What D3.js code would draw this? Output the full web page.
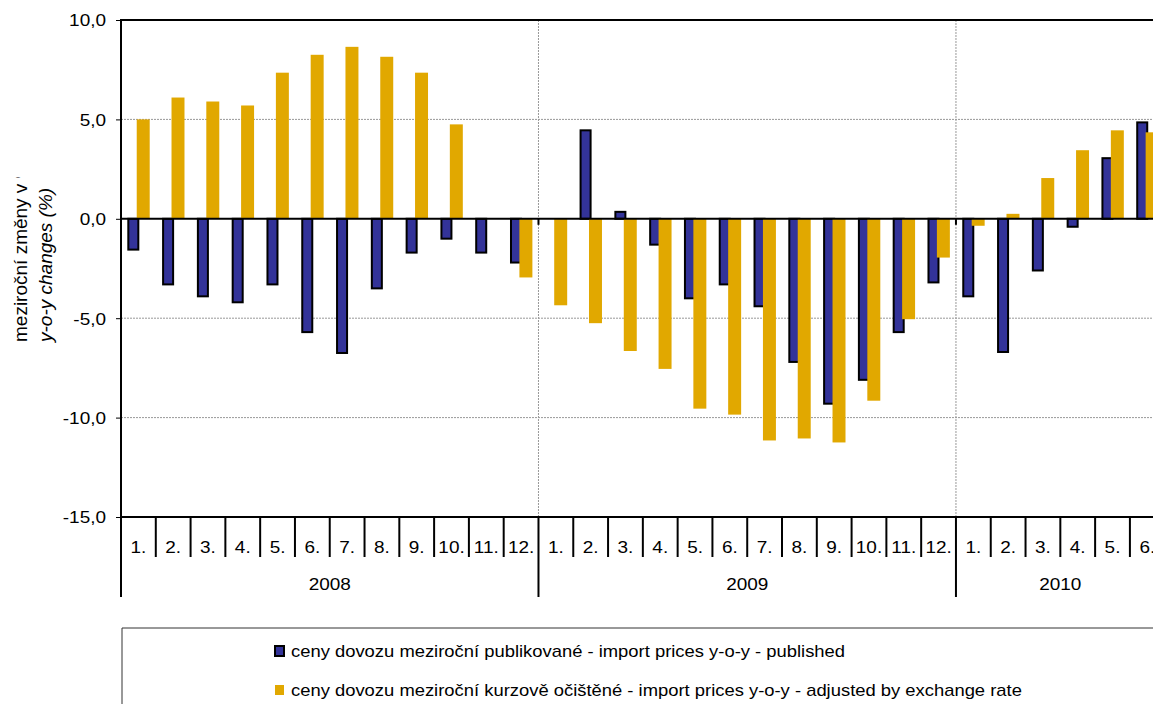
<!DOCTYPE html>
<html>
<head>
<meta charset="utf-8">
<script src="https://cdn.jsdelivr.net/npm/d3@7"></script>
<style>
  body { margin: 0; background: #fff; }
  svg { display: block; font-family: "Liberation Sans", Arial, sans-serif; }
</style>
</head>
<body>
<div id="chart"></div>
<script>
const years = ["2008", "2009", "2010"];
const monthsPerYear = [12, 12, 6];
const monthLabels = ["1.", "2.", "3.", "4.", "5.", "6.", "7.", "8.", "9.", "10.", "11.", "12."];
const published = [-1.55, -3.3, -3.9, -4.2, -3.3, -5.7, -6.75, -3.5, -1.7, -1.0, -1.7, -2.2,
                   0.0, 4.45, 0.35, -1.3, -4.0, -3.3, -4.4, -7.2, -9.3, -8.1, -5.7, -3.2,
                   -3.9, -6.7, -2.6, -0.4, 3.05, 4.85];
const adjusted = [5.0, 6.1, 5.9, 5.7, 7.35, 8.25, 8.65, 8.15, 7.35, 4.75, 0, -2.95,
                  -4.35, -5.25, -6.65, -7.55, -9.55, -9.85, -11.15, -11.05, -11.25, -9.15, -5.05, -1.95,
                  -0.35, 0.25, 2.05, 3.45, 4.45, 4.35];
const yTicks = [10, 5, 0, -5, -10, -15];
const seriesNames = ["ceny dovozu meziroční publikované - import prices y-o-y - published",
                     "ceny dovozu meziroční kurzově očištěné - import prices y-o-y - adjusted by exchange rate"];

const W = 1153, H = 704;
const plotLeft = 121, plotTop = 20, plotBottom = 517;
const slotW = 34.79;
const blue = "#333399", gold = "#E1A800";
const sx = 1.15; // horizontal stretch of the text in the reference

// categories
const cats = [];
years.forEach((yr, i) => {
  for (let m = 0; m < monthsPerYear[i]; m++) cats.push({year: yr, month: monthLabels[m], key: yr + "-" + (m + 1)});
});
const rows = cats.map((c, i) => ({...c, pub: published[i], adj: adjusted[i]}));

const x = d3.scaleBand().domain(cats.map(c => c.key)).range([plotLeft, plotLeft + cats.length * slotW]).padding(0);
const y = d3.scaleLinear().domain([-15, 10]).range([plotBottom, plotTop]);
const bw = x.bandwidth();

const svg = d3.select("#chart").append("svg").attr("width", W).attr("height", H);

// horizontal dotted gridlines
svg.append("g").selectAll("line")
  .data(yTicks.filter(t => t !== 0 && t !== 10 && t !== -15))
  .enter().append("line")
  .attr("x1", plotLeft).attr("x2", W)
  .attr("y1", d => y(d)).attr("y2", d => y(d))
  .attr("stroke", "#999").attr("stroke-width", 1).attr("stroke-dasharray", "2,1");

// year boundaries
const yearStarts = [];
let idx = 0;
years.forEach((yr, i) => { yearStarts.push({year: yr, start: idx, n: monthsPerYear[i]}); idx += monthsPerYear[i]; });

svg.append("g").selectAll("line")
  .data(yearStarts.slice(1))
  .enter().append("line")
  .attr("x1", d => x(cats[d.start].key)).attr("x2", d => x(cats[d.start].key))
  .attr("y1", plotTop).attr("y2", plotBottom)
  .attr("stroke", "#999").attr("stroke-width", 1).attr("stroke-dasharray", "2,1");

// top border
svg.append("line").attr("x1", plotLeft).attr("x2", W).attr("y1", y(10)).attr("y2", y(10))
  .attr("stroke", "#000").attr("stroke-width", 2);

// bars: published (blue, black outline)
svg.append("g").selectAll("rect")
  .data(rows.filter(d => d.pub !== 0))
  .enter().append("rect")
  .attr("x", d => x(d.key) + bw * 0.21)
  .attr("width", bw * 0.288)
  .attr("y", d => y(Math.max(0, d.pub)))
  .attr("height", d => Math.abs(y(d.pub) - y(0)))
  .attr("fill", blue).attr("stroke", "#000").attr("stroke-width", 2);

// bars: adjusted (gold)
svg.append("g").selectAll("rect")
  .data(rows.filter(d => d.adj !== 0))
  .enter().append("rect")
  .attr("x", d => x(d.key) + bw * 0.452)
  .attr("width", bw * 0.373)
  .attr("y", d => y(Math.max(0, d.adj)))
  .attr("height", d => Math.abs(y(d.adj) - y(0)))
  .attr("fill", gold);

// zero line
svg.append("line").attr("x1", plotLeft).attr("x2", W).attr("y1", y(0)).attr("y2", y(0))
  .attr("stroke", "#000").attr("stroke-width", 2);
svg.append("g").selectAll("line")
  .data(yearStarts.slice(1))
  .enter().append("line")
  .attr("x1", d => x(cats[d.start].key)).attr("x2", d => x(cats[d.start].key))
  .attr("y1", y(0)).attr("y2", y(0) + 6)
  .attr("stroke", "#000").attr("stroke-width", 2);

// y axis
const yAxis = svg.append("g")
  .attr("transform", "translate(" + plotLeft + ",0)")
  .call(d3.axisLeft(y).tickValues(yTicks).tickSize(5)
    .tickFormat(d => d3.format(".1f")(d).replace(".", ",").replace("\u2212", "-")));
yAxis.select(".domain").remove();
yAxis.selectAll(".tick line").attr("stroke", "#000").attr("stroke-width", 1);
yAxis.selectAll(".tick text")
  .attr("x", 0).attr("dy", "0.36em")
  .attr("transform", "translate(-15,0) scale(" + sx + ",1)")
  .attr("font-size", 16.5).attr("font-family", "Liberation Sans, Arial, sans-serif").attr("fill", "#000");
svg.append("line").attr("x1", plotLeft).attr("x2", plotLeft).attr("y1", plotTop - 1).attr("y2", 597)
  .attr("stroke", "#000").attr("stroke-width", 2);

// x axis line
svg.append("line").attr("x1", plotLeft).attr("x2", W).attr("y1", plotBottom).attr("y2", plotBottom)
  .attr("stroke", "#000").attr("stroke-width", 2);

// month separators and labels
svg.append("g").selectAll("line")
  .data(cats.slice(1))
  .enter().append("line")
  .attr("x1", d => x(d.key)).attr("x2", d => x(d.key))
  .attr("y1", plotBottom).attr("y2", d => d.month === "1." ? 597 : 557)
  .attr("stroke", "#000").attr("stroke-width", 2);

svg.append("g").selectAll("text")
  .data(cats)
  .enter().append("text")
  .attr("transform", d => "translate(" + (x(d.key) + bw / 2) + ",553) scale(" + sx + ",1)")
  .attr("text-anchor", "middle").attr("font-size", 16.5).attr("fill", "#000")
  .text(d => d.month);

svg.append("g").selectAll("text")
  .data(yearStarts)
  .enter().append("text")
  .attr("transform", d => "translate(" + (x(cats[d.start].key) + d.n * bw / 2) + ",590) scale(" + sx + ",1)")
  .attr("text-anchor", "middle").attr("font-size", 16.5).attr("fill", "#000")
  .text(d => d.year);

// y axis title (first line is clipped in the original, cutting off the %)
svg.append("defs").append("clipPath").attr("id", "titleClip")
  .append("rect").attr("x", 0).attr("y", 177).attr("width", 40).attr("height", 300);
svg.append("g").attr("clip-path", "url(#titleClip)")
  .append("text")
  .attr("transform", "translate(27,342) rotate(-90)")
  .attr("font-size", 19).attr("fill", "#000")
  .text("meziroční změny v %");
const t2 = svg.append("text")
  .attr("transform", "translate(52,342) rotate(-90)")
  .attr("font-size", 19).attr("fill", "#000");
t2.append("tspan").attr("font-style", "italic").text("y-o-y changes ");
t2.append("tspan").attr("font-style", "italic").text("(%)");

// legend
svg.append("path").attr("d", "M" + (plotLeft + 1) + "," + H + "V628H" + W)
  .attr("fill", "none").attr("stroke", "#333").attr("stroke-width", 1);
const lg = svg.append("g").selectAll("g")
  .data(seriesNames)
  .enter().append("g")
  .attr("transform", (d, i) => "translate(275," + (651 + i * 39) + ")");
lg.append("rect")
  .attr("x", 0).attr("y", -5).attr("width", 9).attr("height", 10)
  .attr("fill", (d, i) => i === 0 ? blue : gold)
  .attr("stroke", (d, i) => i === 0 ? "#000" : "none").attr("stroke-width", 2);
lg.append("text")
  .attr("transform", "translate(16,6) scale(" + sx + ",1)")
  .attr("font-size", 16).attr("fill", "#000")
  .text(d => d);
</script>
</body>
</html>
